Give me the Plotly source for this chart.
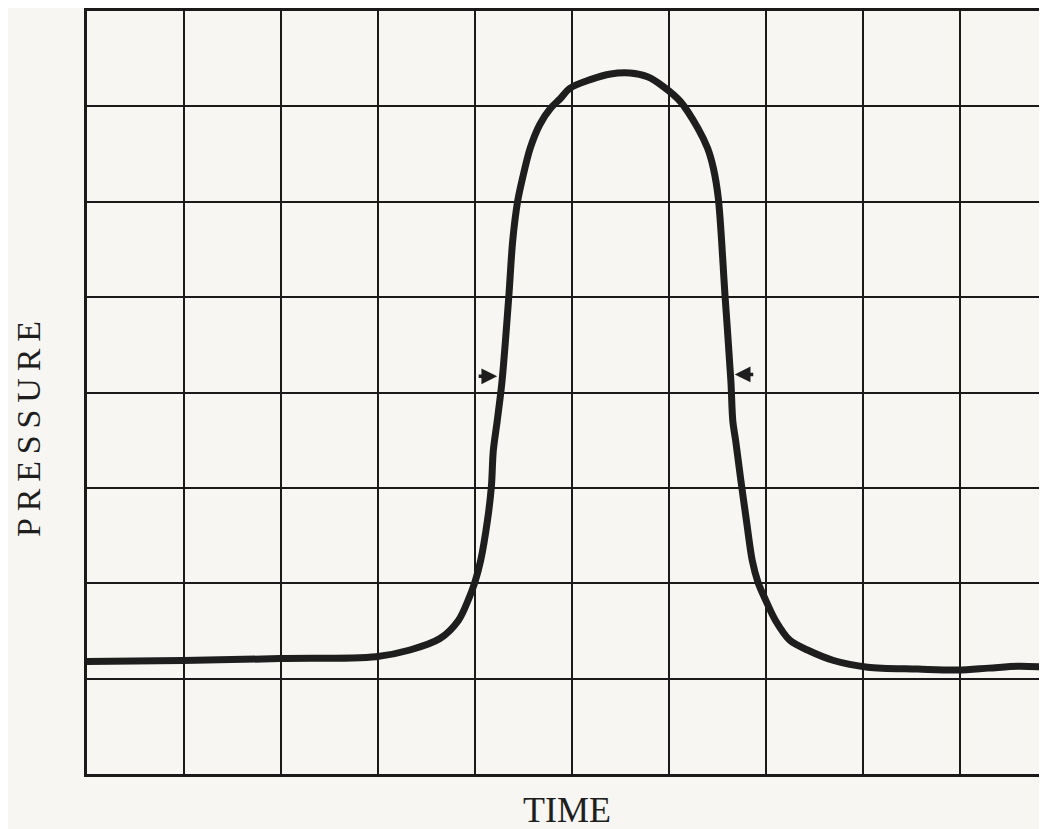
import plotly.graph_objects as go

# Trace, in grid units (x: 0..10 columns, y: 0..8 rows)
time_vals = [0.00, 0.99, 1.99, 2.98, 3.33, 3.64, 3.83, 3.93, 4.00, 4.06, 4.13, 4.17,
             4.19, 4.23, 4.28, 4.35, 4.39, 4.44, 4.49, 4.57, 4.67, 4.78, 4.88, 4.98,
             5.19, 5.40, 5.60, 5.78, 5.94, 6.12, 6.30, 6.40, 6.46, 6.51, 6.58,
             6.64, 6.66, 6.69, 6.74, 6.80, 6.86, 6.92, 7.00, 7.10, 7.25, 7.43, 7.70,
             8.05, 8.57, 8.98, 9.30, 9.60, 9.91]
pressure_vals = [1.18, 1.19, 1.21, 1.23, 1.30, 1.42, 1.61, 1.82, 2.01, 2.24, 2.66, 3.01,
                 3.39, 3.70, 4.12, 5.01, 5.59, 6.00, 6.24, 6.56, 6.81, 6.98, 7.08, 7.19,
                 7.28, 7.34, 7.35, 7.31, 7.21, 7.05, 6.77, 6.56, 6.35, 6.04, 5.01,
                 4.12, 3.70, 3.49, 3.10, 2.66, 2.24, 2.01, 1.82, 1.61, 1.40, 1.30, 1.19,
                 1.12, 1.10, 1.09, 1.11, 1.13, 1.12]

# Hand-drawn marker arrows: tip position and direction (+1 points right, -1 points left)
marker_x = [4.23, 6.68]
marker_y = [4.17, 4.19]
marker_dir = [1, -1]

x_label = "TIME"
y_label = "PRESSURE"

fig = go.Figure()
fig.add_trace(go.Scatter(
    x=time_vals, y=pressure_vals, mode="lines",
    line=dict(color="#1e1e1e", width=7, shape="spline", smoothing=0.9),
    hoverinfo="skip", showlegend=False,
))

for mx, my, md in zip(marker_x, marker_y, marker_dir):
    fig.add_annotation(
        x=mx, y=my, xref="x", yref="y", text="", showarrow=True,
        ax=-20 * md, ay=0, arrowhead=2, arrowsize=0.9, arrowwidth=3.5,
        arrowcolor="#1e1e1e",
    )

# plot area in page pixels: x 87..1047, y 9..774 (page body adds 8px offset)
fig.add_annotation(
    text=x_label, xref="paper", yref="paper",
    x=(567 - 87) / 960, y=-(810 - 774) / 765, xanchor="center", yanchor="middle",
    showarrow=False, font=dict(family="Liberation Serif", size=36, color="#1e1e1e"),
)
fig.add_annotation(
    text="\u2009".join(y_label), xref="paper", yref="paper",
    x=-(87 - 29) / 960, y=(774 - 428) / 765, xanchor="center", yanchor="middle",
    textangle=-90, showarrow=False,
    font=dict(family="Liberation Serif", size=34, color="#1e1e1e"),
)

axis_common = dict(
    showgrid=True, gridcolor="#1a1a1a", gridwidth=2, dtick=1, tick0=0,
    showticklabels=False, ticks="", zeroline=False,
    showline=True, linecolor="#1a1a1a", linewidth=2.5,
)
fig.update_xaxes(range=[0, 9.9], mirror=True, **axis_common)
fig.update_yaxes(range=[0, 8], mirror=False, **axis_common)

fig.update_layout(
    width=1039, height=821,
    margin=dict(l=79, r=0, t=1, b=55),
    paper_bgcolor="#f7f6f2", plot_bgcolor="#f7f6f2",
    showlegend=False,
)

fig.write_html("out.html")
